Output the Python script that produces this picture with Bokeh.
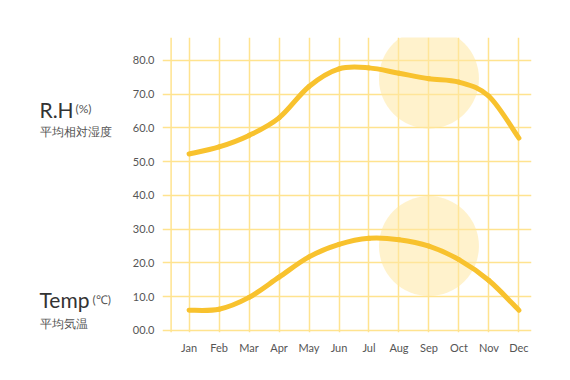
from bokeh.plotting import figure
from bokeh.models import Range1d, FixedTicker, Span, ColumnDataSource
from bokeh.layouts import row
from bokeh.core.properties import value
from bokeh.embed import file_html
from bokeh.resources import INLINE

months = ["Jan", "Feb", "Mar", "Apr", "May", "Jun", "Jul", "Aug", "Sep", "Oct", "Nov", "Dec"]
rh = [52.3, 54.4, 57.8, 63.0, 72.3, 77.5, 77.8, 76.2, 74.6, 73.6, 69.4, 57.0]
temp = [6.0, 6.3, 9.8, 15.8, 21.8, 25.5, 27.3, 26.9, 25.0, 21.0, 14.8, 6.0]
y_ticks = [0, 10, 20, 30, 40, 50, 60, 70, 80]
y_labels = ["00.0", "10.0", "20.0", "30.0", "40.0", "50.0", "60.0", "70.0", "80.0"]
highlight_month = "Sep"

YELLOW = "#F8C22E"
GRID = "#FFE38F"
FONT = "Lato"
H = 372
TOP, BOTTOM = 37, 40

xs = list(range(1, len(months) + 1))

# ---- left title panel (frame aligned with main chart frame; data units = page pixels) ----
left = figure(width=120, height=H, output_backend="svg", toolbar_location=None,
              x_range=Range1d(0, 120), y_range=Range1d(H - BOTTOM, TOP),
              min_border_left=0, min_border_right=0, min_border_top=TOP, min_border_bottom=BOTTOM)
left.axis.visible = False
left.grid.visible = False
left.outline_line_color = None
left.border_fill_color = "white"
left.background_fill_color = "white"


def lab(x, y, text, size, color):
    left.text(x=[x], y=[y], text=[text], text_font=value(FONT), text_font_size=size,
              text_color=color, text_baseline="alphabetic", text_align="left")


lab(39, 108.5, "R.H", "21px", "#333333")
lab(75, 107.5, "(%)", "12px", "#555555")
lab(39, 131, "平均相対湿度", "11.5px", "#555555")
lab(39, 299, "Temp", "21px", "#333333")
lab(92, 298.5, "(℃)", "12px", "#555555")
lab(39, 323, "平均気温", "11.5px", "#555555")

# ---- main chart ----
p = figure(width=442, height=H, output_backend="svg", toolbar_location=None,
           x_range=Range1d(0.113, 12.42), y_range=Range1d(-0.6, 86.8),
           min_border_left=42, min_border_right=31, min_border_top=TOP, min_border_bottom=BOTTOM)
p.outline_line_color = None
p.background_fill_color = "white"
p.border_fill_color = "white"

p.xgrid.ticker = FixedTicker(ticks=xs)
p.ygrid.ticker = FixedTicker(ticks=y_ticks)
for g in (p.xgrid, p.ygrid):
    g.grid_line_color = GRID
    g.grid_line_width = 1.5
p.add_layout(Span(location=0.4, dimension="height", line_color=GRID, line_width=1.5, level="underlay"))

p.xaxis.ticker = FixedTicker(ticks=xs)
p.xaxis.major_label_overrides = {i: m for i, m in zip(xs, months)}
p.yaxis.ticker = FixedTicker(ticks=y_ticks)
p.yaxis.major_label_overrides = {t: l for t, l in zip(y_ticks, y_labels)}
for ax in (p.xaxis, p.yaxis):
    ax.axis_line_color = None
    ax.major_tick_line_color = None
    ax.minor_tick_line_color = None
    ax.major_tick_out = 0
    ax.major_tick_in = 0
    ax.major_label_text_font = FONT
    ax.major_label_text_font_size = "11px"
    ax.major_label_text_color = "#555555"
p.yaxis.major_label_standoff = 8
p.xaxis.major_label_standoff = 8

hi = months.index(highlight_month)
p.scatter([xs[hi], xs[hi]], [rh[hi], temp[hi]], size=100, fill_color="#FFE7A3",
          fill_alpha=0.55, line_color=None)


def bezier_segments(x, y):
    n = len(x)
    d = dict(x0=[], y0=[], x1=[], y1=[], cx0=[], cy0=[], cx1=[], cy1=[])
    for i in range(n - 1):
        im = max(i - 1, 0)
        ip2 = min(i + 2, n - 1)
        d["x0"].append(x[i]); d["y0"].append(y[i])
        d["x1"].append(x[i + 1]); d["y1"].append(y[i + 1])
        d["cx0"].append(x[i] + (x[i + 1] - x[im]) / 6.0)
        d["cy0"].append(y[i] + (y[i + 1] - y[im]) / 6.0)
        d["cx1"].append(x[i + 1] - (x[ip2] - x[i]) / 6.0)
        d["cy1"].append(y[i + 1] - (y[ip2] - y[i]) / 6.0)
    return ColumnDataSource(d)


for series in (rh, temp):
    p.bezier(x0="x0", y0="y0", x1="x1", y1="y1", cx0="cx0", cy0="cy0", cx1="cx1", cy1="cy1",
             source=bezier_segments(xs, series), line_color=YELLOW, line_width=5, line_cap="round")

layout = row(left, p, spacing=0)
open("out.html", "w").write(file_html(layout, INLINE))
